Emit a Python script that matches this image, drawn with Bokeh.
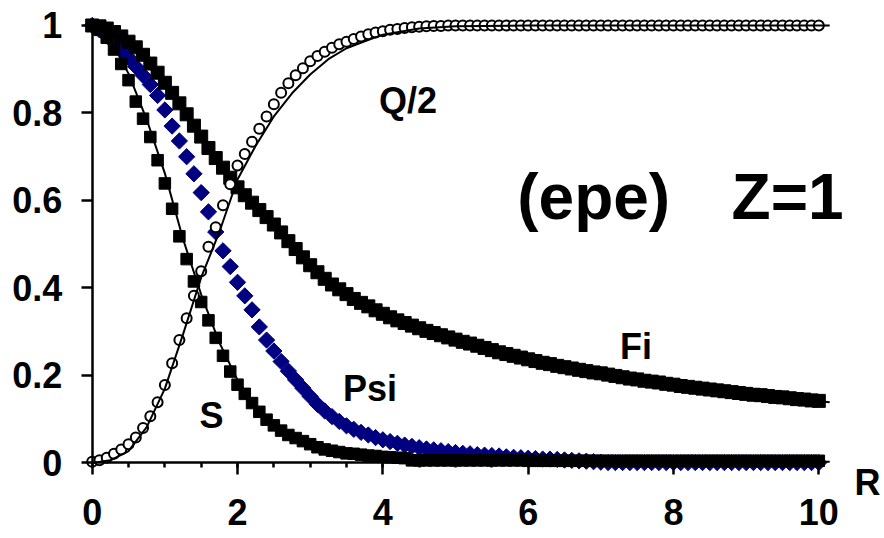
from bokeh.plotting import figure
from bokeh.models import Range1d, FixedTicker, CustomJSTickFormatter, Label, ColumnDataSource
from bokeh.embed import file_html
from bokeh.resources import INLINE

# ---------------- data ----------------
r_values = [0.0, 0.1, 0.2, 0.3, 0.4, 0.5, 0.6, 0.7, 0.8, 0.9,
            1.0, 1.1, 1.2, 1.3, 1.4, 1.5, 1.6, 1.7, 1.8, 1.9,
            2.0, 2.1, 2.2, 2.3, 2.4, 2.5, 2.6, 2.7, 2.8, 2.9,
            3.0, 3.1, 3.2, 3.3, 3.4, 3.5, 3.6, 3.7, 3.8, 3.9,
            4.0, 4.1, 4.2, 4.3, 4.4, 4.5, 4.6, 4.7, 4.8, 4.9,
            5.0, 5.1, 5.2, 5.3, 5.4, 5.5, 5.6, 5.7, 5.8, 5.9,
            6.0, 6.1, 6.2, 6.3, 6.4, 6.5, 6.6, 6.7, 6.8, 6.9,
            7.0, 7.1, 7.2, 7.3, 7.4, 7.5, 7.6, 7.7, 7.8, 7.9,
            8.0, 8.1, 8.2, 8.3, 8.4, 8.5, 8.6, 8.7, 8.8, 8.9,
            9.0, 9.1, 9.2, 9.3, 9.4, 9.5, 9.6, 9.7, 9.8, 9.9,
            10.0]

q_half = ([0.003, 0.006, 0.012, 0.021, 0.031, 0.043, 0.058, 0.080, 0.107, 0.139,
           0.178, 0.228, 0.281, 0.331, 0.382, 0.438, 0.494, 0.539, 0.589, 0.637,
           0.680, 0.706, 0.734, 0.764, 0.792, 0.820, 0.846, 0.868, 0.886, 0.902,
           0.918, 0.930, 0.940, 0.949, 0.957, 0.963, 0.969, 0.975, 0.980, 0.984,
           0.987, 0.990, 0.992, 0.994, 0.996, 0.997, 0.998, 0.999, 0.999, 1.000]
          + [1.000] * 51)

s_vals = ([1.000, 0.990, 0.972, 0.945, 0.912, 0.875, 0.826, 0.787, 0.745, 0.692,
           0.639, 0.581, 0.518, 0.466, 0.415, 0.368, 0.326, 0.286, 0.245, 0.209,
           0.179, 0.158, 0.137, 0.117, 0.099, 0.086, 0.074, 0.064, 0.057, 0.050,
           0.043, 0.036, 0.031, 0.028, 0.025, 0.022, 0.021, 0.019, 0.017, 0.016,
           0.014, 0.013, 0.012, 0.011, 0.006]
          + [0.006] * 15 + [0.005] * 41)

psi_vals = ([1.000, 0.990, 0.976, 0.961, 0.945, 0.927, 0.906, 0.886, 0.865, 0.840,
             0.807, 0.770, 0.736, 0.700, 0.661, 0.618, 0.574, 0.528, 0.485, 0.449,
             0.413, 0.382, 0.350, 0.311, 0.281, 0.256, 0.232, 0.210, 0.190, 0.171,
             0.152, 0.134, 0.119, 0.106, 0.095, 0.085, 0.077, 0.070, 0.064, 0.058,
             0.053, 0.049, 0.045, 0.041, 0.038, 0.035, 0.032, 0.030, 0.028, 0.026,
             0.024, 0.022, 0.021, 0.019, 0.018, 0.017, 0.016, 0.014, 0.013, 0.012,
             0.011, 0.010, 0.009, 0.009, 0.008, 0.007, 0.006, 0.005, 0.004, 0.003,
             0.002]
            + [0.001] * 30)

fi_vals = [1.000, 0.998, 0.993, 0.985, 0.975, 0.963, 0.950, 0.933, 0.913, 0.892,
           0.869, 0.846, 0.822, 0.797, 0.771, 0.746, 0.720, 0.697, 0.675, 0.652,
           0.630, 0.612, 0.595, 0.578, 0.562, 0.545, 0.527, 0.507, 0.489, 0.470,
           0.452, 0.436, 0.421, 0.408, 0.397, 0.386, 0.375, 0.366, 0.358, 0.349,
           0.341, 0.333, 0.326, 0.320, 0.314, 0.308, 0.302, 0.297, 0.292, 0.287,
           0.282, 0.277, 0.273, 0.268, 0.263, 0.258, 0.253, 0.249, 0.245, 0.241,
           0.237, 0.233, 0.229, 0.226, 0.222, 0.219, 0.216, 0.213, 0.210, 0.207,
           0.205, 0.202, 0.199, 0.196, 0.193, 0.191, 0.188, 0.186, 0.184, 0.181,
           0.179, 0.176, 0.174, 0.172, 0.170, 0.168, 0.166, 0.164, 0.162, 0.160,
           0.158, 0.156, 0.155, 0.153, 0.151, 0.150, 0.148, 0.146, 0.145, 0.143,
           0.142]

# fitted curves (solid lines)
q_fit_r = [0.0, 0.25, 0.5, 0.75, 1.0, 1.25, 1.5, 1.75, 2.0, 2.25, 2.5, 2.75,
           3.0, 3.25, 3.5, 3.75, 4.0, 4.5, 5.0, 6.0, 10.15]
q_fit = [0.000, 0.006, 0.027, 0.082, 0.170, 0.294, 0.424, 0.528, 0.648, 0.725, 0.792, 0.845,
         0.888, 0.923, 0.948, 0.964, 0.979, 0.993, 0.998, 1.000, 1.000]

s_fit_r = [0.0, 0.25, 0.5, 0.75, 1.0, 1.25, 1.5, 1.75, 2.0, 2.25, 2.5, 2.75,
           3.0, 3.5, 4.0, 5.0, 6.0, 8.0, 10.15]
s_fit = [1.000, 0.968, 0.890, 0.785, 0.662, 0.512, 0.385, 0.275, 0.190, 0.128, 0.088, 0.062,
         0.044, 0.023, 0.013, 0.007, 0.005, 0.004, 0.003]

fi_fit_r = [0.0, 0.5, 1.0, 1.5, 2.0, 2.5, 3.0, 3.5, 4.0, 5.0, 6.0, 7.0, 8.0, 9.0, 10.15]
fi_fit = [1.000, 0.963, 0.869, 0.746, 0.630, 0.545, 0.452, 0.386, 0.341, 0.282,
          0.237, 0.205, 0.179, 0.158, 0.139]

x_ticks = [0, 2, 4, 6, 8, 10]
x_minor_ticks = [0, 0.5, 1, 1.5, 2, 2.5, 3, 3.5, 4, 4.5, 5, 5.5, 6, 6.5, 7, 7.5,
                 8, 8.5, 9, 9.5, 10]
y_ticks = [0, 0.2, 0.4, 0.6, 0.8, 1]

series_labels = ["Q/2", "S", "Psi", "Fi"]
title_left = "(epe)"
title_right = "Z=1"
x_title = "R"

# ---------------- figure ----------------
FONT = "Liberation Sans"

p = figure(width=884, height=538,
           x_range=Range1d(-1.262, 10.904), y_range=Range1d(-0.1726, 1.0571),
           output_backend="svg", toolbar_location=None, min_border=0)
p.outline_line_color = None
p.grid.visible = False
p.background_fill_color = "white"
p.border_fill_color = "white"

for ax in (p.xaxis[0], p.yaxis[0]):
    ax.fixed_location = 0
    ax.axis_line_width = 2.5
    ax.axis_line_color = "black"
    ax.major_tick_line_width = 2.5
    ax.minor_tick_line_width = 2.5
    ax.major_tick_line_color = "black"
    ax.minor_tick_line_color = "black"
    ax.major_tick_in = 0
    ax.minor_tick_in = 0
    ax.major_label_text_font = FONT
    ax.major_label_text_font_style = "bold"
    ax.major_label_text_font_size = "36px"
    ax.major_label_text_color = "black"

xa = p.xaxis[0]
xa.bounds = (0, 10)
xa.ticker = FixedTicker(ticks=x_ticks, minor_ticks=x_minor_ticks)
xa.major_tick_out = 12
xa.minor_tick_out = 5
xa.major_label_standoff = 24

ya = p.yaxis[0]
ya.bounds = (0, 1)
ya.ticker = FixedTicker(ticks=y_ticks, minor_ticks=[])
ya.major_tick_out = 11
ya.minor_tick_out = 0
ya.major_label_standoff = 19
ya.formatter = CustomJSTickFormatter(code="return tick.toFixed(1).replace(/\\.0$/, '')")

src = ColumnDataSource(dict(r=r_values, q=q_half, s=s_vals, psi=psi_vals, fi=fi_vals))

# Psi: navy diamonds
p.scatter("r", "psi", source=src, marker="square", angle=0.7854, size=11.5,
          fill_color="#000080", line_color="#000080", line_width=1)
# Fi: black squares
p.scatter("r", "fi", source=src, marker="square", size=13,
          fill_color="black", line_color="black")
p.line(fi_fit_r, fi_fit, line_color="black", line_width=2)
# S: black squares
p.scatter("r", "s", source=src, marker="square", size=11.5,
          fill_color="black", line_color="black")
p.line(s_fit_r, s_fit, line_color="black", line_width=2)
# Q/2: open circles
p.scatter("r", "q", source=src, marker="circle", size=10,
          fill_color="white", line_color="black", line_width=2)
p.line(q_fit_r, q_fit, line_color="black", line_width=2)

label_pos = {"Q/2": (3.947, 0.8286), "S": (1.477, 0.1086),
             "Psi": (3.450, 0.1703), "Fi": (7.263, 0.2663)}
for name in series_labels:
    lx, ly = label_pos[name]
    p.add_layout(Label(x=lx, y=ly, text=name, text_font=FONT, text_font_style="bold",
                       text_font_size="36px", text_color="black",
                       text_align="left", text_baseline="alphabetic"))

p.add_layout(Label(x=5.85, y=0.6069, text=title_left, text_font=FONT, text_font_style="bold",
                   text_font_size="64px", text_color="black",
                   text_align="left", text_baseline="alphabetic"))
p.add_layout(Label(x=8.80, y=0.6069, text=title_right, text_font=FONT, text_font_style="bold",
                   text_font_size="64px", text_color="black",
                   text_align="left", text_baseline="alphabetic"))
p.add_layout(Label(x=10.491, y=-0.0446, text=x_title, text_font=FONT, text_font_style="bold",
                   text_font_size="36px", text_color="black",
                   text_align="left", text_baseline="alphabetic"))

open("out.html", "w").write(file_html(p, INLINE))
